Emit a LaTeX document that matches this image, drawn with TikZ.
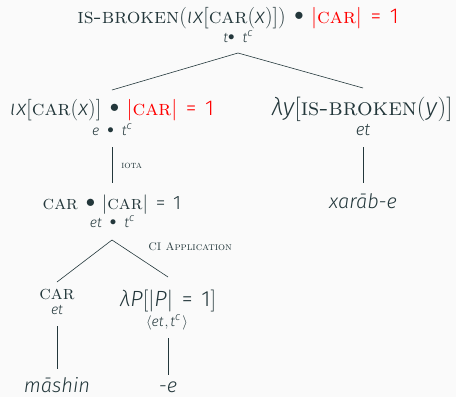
\documentclass[tikz,border=0pt]{standalone}
\usepackage{fontspec}
\newfontfamily\fira{Fira Sans Light}
\newfontfamily\firam{Fira Sans Light}[Scale=1.0]
\definecolor{mdark}{HTML}{23373B}
\definecolor{bgc}{HTML}{FAFAFA}
\newcommand{\vi}[1]{{\fira\itshape #1}}
\newcommand{\vm}[1]{{\firam\itshape #1\/}}
\newcommand{\fu}[1]{{\firam #1}}
\newcommand{\sca}[1]{\textsc{#1}}
\newcommand{\supc}{\raisebox{0.36em}{\fontsize{11}{11}\selectfont\fira\itshape c}}
\newcommand{\bul}{\raisebox{0.1em}{\scalebox{0.9}{$\bullet$}}}
\newcommand{\tsp}{\hspace{8pt}}
\newcommand{\eqone}{\hspace{0.4em}\fu{=}\hspace{0.4em}\fu{1}}
\newcommand{\bsp}{\hspace{0.4em}\bul\hspace{0.35em}}
\begin{document}
\begin{tikzpicture}[x=1pt,y=-1pt, line width=0.6pt, draw=mdark,
  every node/.style={inner sep=0pt, anchor=base, text=mdark},
  mainf/.style={font=\fontsize{21.5}{24}\selectfont},
  typef/.style={font=\fontsize{14}{16}\selectfont},
  labf/.style={font=\fontsize{11}{13}\selectfont, anchor=base west},
  leaff/.style={font=\fontsize{20}{22}\selectfont\fira\itshape},
  edge/.style={draw=mdark, line width=0.6pt}]
\fill[bgc] (0,0) rectangle (456,397);
\useasboundingbox (0,0) rectangle (456,397);
% root
\node[mainf] (root) at (238,23) {\sca{is-broken}(\vm{ι\kern1pt x}[\sca{car}(\vm{x})])\bsp{\color{red}|\sca{car}|\eqone}};
\node[typef] (roott) at (238,42) {\vi{t}\bul\tsp\vi{t}\supc};
% row 2
\node[mainf] (iota) at (112,115) {\vm{ι\kern1pt x}[\sca{car}(\vm{x})]\bsp{\color{red}|\sca{car}|\eqone}};
\node[typef] (iotat) at (112,135) {\vi{e}\tsp\bul\tsp\vi{t}\supc};
\node[mainf, font=\fontsize{24.5}{27}\selectfont] (pred) at (362,115) {\vm{λy}[\sca{is-broken}(\vm{y})]};
\node[typef, font=\fontsize{17}{19}\selectfont] (predt) at (363,135) {\vi{et}};
% row 3
\node[mainf, font=\fontsize{19.5}{22}\selectfont] (ci) at (112,209) {\sca{car}\bsp|\sca{car}|\eqone};
\node[typef] (cit) at (112,227) {\vi{et}\tsp\bul\tsp\vi{t}\supc};
\node[leaff] (xarab) at (363,208) {xarāb-e};
\node[labf, font=\fontsize{10}{12}\selectfont] (iotalab) at (121,168) {\sca{iota}};
\node[labf] (cilab) at (148,250) {\sca{CI Application}};
% row 4
\node[mainf, font=\fontsize{19.5}{22}\selectfont] (car) at (57,299) {\sca{car}};
\node[typef] (cart) at (57,314) {\vi{et}};
\node[mainf, font=\fontsize{22}{25}\selectfont] (lamp) at (168,306) {\vm{λP}[|\vm{P}|\eqone]};
\node[typef] (lampt) at (167,326) {$\langle$\vi{et}\kern1pt,\kern2pt\vi{t}\supc\kern2pt$\rangle$};
% leaves
\node[leaff] (mashin) at (57,392) {māshin};
\node[leaff] (e) at (168,392) {-e};
% connector ends
\coordinate (a0) at (238,53);
\coordinate (a0l) at (112,90);
\coordinate (a0r) at (363,88);
\coordinate (b0) at (112,147);
\coordinate (b1) at (112,183);
\coordinate (c0) at (363,147);
\coordinate (c1) at (363,183);
\coordinate (d0) at (112,240);
\coordinate (d0l) at (57,282);
\coordinate (d0r) at (168,277);
\coordinate (e0) at (57,326);
\coordinate (e1) at (57,369);
\coordinate (f0) at (168,338);
\coordinate (f1) at (168,375);
\draw[edge] (a0l) -- (a0) -- (a0r);
\draw[edge] (b0) -- (b1);
\draw[edge] (c0) -- (c1);
\draw[edge] (d0l) -- (d0) -- (d0r);
\draw[edge] (e0) -- (e1);
\draw[edge] (f0) -- (f1);
\end{tikzpicture}
\end{document}
